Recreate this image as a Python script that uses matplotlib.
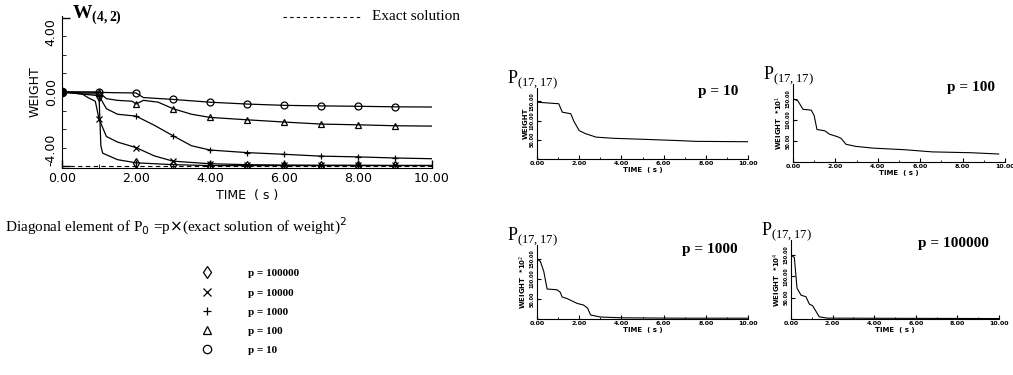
import matplotlib
matplotlib.use("Agg")
import matplotlib.pyplot as plt
from matplotlib.lines import Line2D

# W(4,2) weight histories for the five p values
t_p10 = [0, 0.5, 1.0, 1.5, 2.0, 2.2, 3.0, 4.0, 5.0, 6.0, 7.0, 8.0, 9.0, 10.0]
w_p10 = [0, 0, -0.02, -0.04, -0.05, -0.3, -0.4, -0.55, -0.65, -0.72, -0.75, -0.77, -0.8, -0.81]

t_p100 = [0, 0.3, 0.6, 1.0, 1.2, 1.5, 1.9, 2.0, 2.2, 2.6, 3.0, 3.5, 4.0, 5.0, 6.0, 7.0, 8.0, 9.0, 10.0]
w_p100 = [0, 0, 0, 0, -0.36, -0.45, -0.5, -0.65, -0.45, -0.55, -0.9, -1.2, -1.37, -1.5, -1.62, -1.73, -1.77, -1.82, -1.84]

t_p1000 = [0, 0.5, 1.0, 1.2, 1.5, 2.0, 2.5, 3.0, 3.5, 4.0, 5.0, 6.0, 7.0, 8.0, 9.0, 10.0]
w_p1000 = [0, -0.1, -0.2, -0.9, -1.2, -1.3, -1.8, -2.36, -2.9, -3.13, -3.27, -3.36, -3.46, -3.5, -3.56, -3.6]

t_p10000 = [0, 0.5, 0.7, 0.9, 1.0, 1.2, 1.5, 2.0, 2.5, 3.0, 4.0, 5.0, 6.0, 7.0, 8.0, 9.0, 10.0]
w_p10000 = [0, -0.05, -0.3, -0.5, -1.45, -2.4, -2.7, -3.0, -3.45, -3.73, -3.87, -3.92, -3.94, -3.95, -3.95, -3.96, -3.96]

t_p100000 = [0, 0.5, 0.95, 1.0, 1.05, 1.1, 1.5, 2.0, 3.0, 4.0, 5.0, 6.0, 7.0, 8.0, 9.0, 10.0]
w_p100000 = [0, -0.1, -0.1, -0.2, -2.9, -3.3, -3.65, -3.82, -3.92, -3.97, -3.97, -3.97, -3.97, -3.97, -3.97, -3.97]

exact_w = -4.0

# P(17,17) histories (scaled values as printed on the axes)
tp_10 = [0, 1.03, 1.2, 1.6, 1.75, 2.0, 2.3, 2.8, 3.6, 5.2, 6.7, 7.5, 10.0]
pv_10 = [148, 144, 122, 118, 98, 74, 66, 57, 54, 51, 48, 46, 45]

tp_100 = [0, 0.23, 0.47, 0.86, 1.0, 1.13, 1.5, 1.72, 2.1, 2.27, 2.5, 2.97, 3.75, 5.3, 6.56, 8.4, 9.7]
pv_100 = [150, 145, 125, 123, 110, 77, 74, 66, 60, 56, 42, 37, 33, 29, 24, 22, 19]

tp_1000 = [0, 0.16, 0.32, 0.48, 0.95, 1.1, 1.19, 1.43, 1.9, 2.2, 2.4, 2.54, 3.0, 3.97, 6.8, 10.0]
pv_1000 = [150, 144, 119, 75, 73, 67, 55, 51, 39, 35, 27, 10, 5, 3, 2, 2]

tp_100000 = [0, 0.16, 0.29, 0.48, 0.72, 0.88, 1.04, 1.36, 1.76, 10.0]
pv_100000 = [150, 144, 72, 56, 52, 35, 31, 5, 2, 1]

series = [
    ("p = 100000", t_p100000, w_p100000, "d"),
    ("p = 10000", t_p10000, w_p10000, "x"),
    ("p = 1000", t_p1000, w_p1000, "+"),
    ("p = 100", t_p100, w_p100, "^"),
    ("p = 10", t_p10, w_p10, "o"),
]

insets = [
    ("p = 10", "WEIGHT", tp_10, pv_10, [537, 88, 211, 71]),
    ("p = 100", r"WEIGHT  *10$^1$", tp_100, pv_100, [793, 84, 212, 78]),
    ("p = 1000", r"WEIGHT  *10$^2$", tp_1000, pv_1000, [537, 245, 211, 74]),
    ("p = 100000", r"WEIGHT  *10$^4$", tp_100000, pv_100000, [791, 240, 208, 79]),
]

W, H = 1013, 375
fig = plt.figure(figsize=(W / 100, H / 100), dpi=100)
serif = "Liberation Serif"


def box(l, t, w, h):
    return [l / W, 1 - (t + h) / H, w / W, h / H]


ax = fig.add_axes(box(62, 16, 370, 152))
for label, t, w, mk in series:
    idx = [i for i, tt in enumerate(t) if tt in (1, 2, 3, 4, 5, 6, 7, 8, 9)]
    ax.plot(t, w, color="black", lw=0.9, marker=mk, markevery=idx, ms=5,
            mfc="none", mec="black", mew=0.9)
ax.plot([0], [0], "o", color="black", ms=6)
ax.axhline(exact_w, color="black", lw=0.8, ls=(0, (4, 3)))
ax.set_xlim(0, 10)
ax.set_ylim(-4.1, 4.1)
ax.set_xticks(range(0, 11, 2))
ax.set_xticks(range(0, 11), minor=True)
ax.set_xticklabels([f"{v:.2f}" for v in range(0, 11, 2)], fontsize=9)
ax.set_yticks([-4, 0, 4])
ax.set_yticks(range(-4, 5), minor=True)
ax.set_yticklabels(["-4.00", "0.00", "4.00"], fontsize=9, rotation=90, va="center")
ax.get_yticklabels()[0].set_va("bottom")
ax.get_yticklabels()[2].set_va("top")
ax.spines["top"].set_visible(False)
ax.spines["right"].set_visible(False)
ax.tick_params(direction="in", length=6, width=1, pad=3)
ax.tick_params(which="minor", direction="in", length=3)
ax.set_xlabel("TIME  ( s )", fontsize=9, labelpad=3)
ax.set_ylabel("WEIGHT", fontsize=9, labelpad=2)

fig.text(72 / W, 1 - 15 / H, r"W$_{\mathregular{(4,2)}}$", family=serif, fontsize=14,
         weight="bold", va="center")
fig.add_artist(Line2D([283 / W, 360 / W], [1 - 17 / H, 1 - 17 / H], color="black",
                      lw=0.8, ls=(0, (3, 3))))
fig.text(372 / W, 1 - 17 / H, "Exact solution", family=serif, fontsize=11, va="center")
fig.text(5 / W, 1 - 226 / H,
         r"Diagonal element of P$_0$ =p$\times$(exact solution of weight)$^2$",
         family=serif, fontsize=11, va="center")

handles = [Line2D([], [], ls="none", marker=mk, ms=6, mfc="none", mec="black", mew=0.9)
           for _, _, _, mk in series]
fig.legend(handles, [s[0] for s in series], loc="upper left",
           bbox_to_anchor=(196 / W, 1 - 263 / H), frameon=False,
           prop={"family": serif, "size": 8, "weight": "bold"},
           handletextpad=3.2, labelspacing=0.85, borderpad=0, handlelength=1)

for ptxt, ylab, t, v, (l, tp, w, h) in insets:
    a = fig.add_axes(box(l, tp, w, h))
    a.plot(t, v, color="black", lw=0.8)
    a.set_xlim(0, 10)
    a.set_ylim(0, 185)
    a.set_xticks(range(0, 11, 2))
    a.set_xticks(range(0, 11), minor=True)
    a.set_xticklabels([f"{x:.2f}" for x in range(0, 11, 2)], fontsize=4.5, weight="bold")
    a.set_yticks([0, 50, 100, 150])
    a.set_yticklabels(["", "50.00", "100.00", "150.00"], fontsize=3.5, rotation=90,
                      va="center", weight="bold")
    a.spines["top"].set_visible(False)
    a.spines["right"].set_visible(False)
    a.tick_params(direction="in", length=3, width=0.8, pad=1.5)
    a.tick_params(which="minor", direction="in", length=1.5)
    a.set_xlabel("TIME  ( s )", fontsize=5, labelpad=1, weight="bold")
    a.set_ylabel(ylab, fontsize=5, labelpad=1, weight="bold")
    fig.text((l - 30) / W, 1 - (tp - 9) / H, r"P$_{\mathregular{(17,17)}}$",
             family=serif, fontsize=13, va="center")
    fig.text((l + w - 10) / W, 1 - (tp + 4) / H, ptxt, family=serif, fontsize=11,
             weight="bold", ha="right", va="center")

fig.savefig("out.png", dpi=100)
